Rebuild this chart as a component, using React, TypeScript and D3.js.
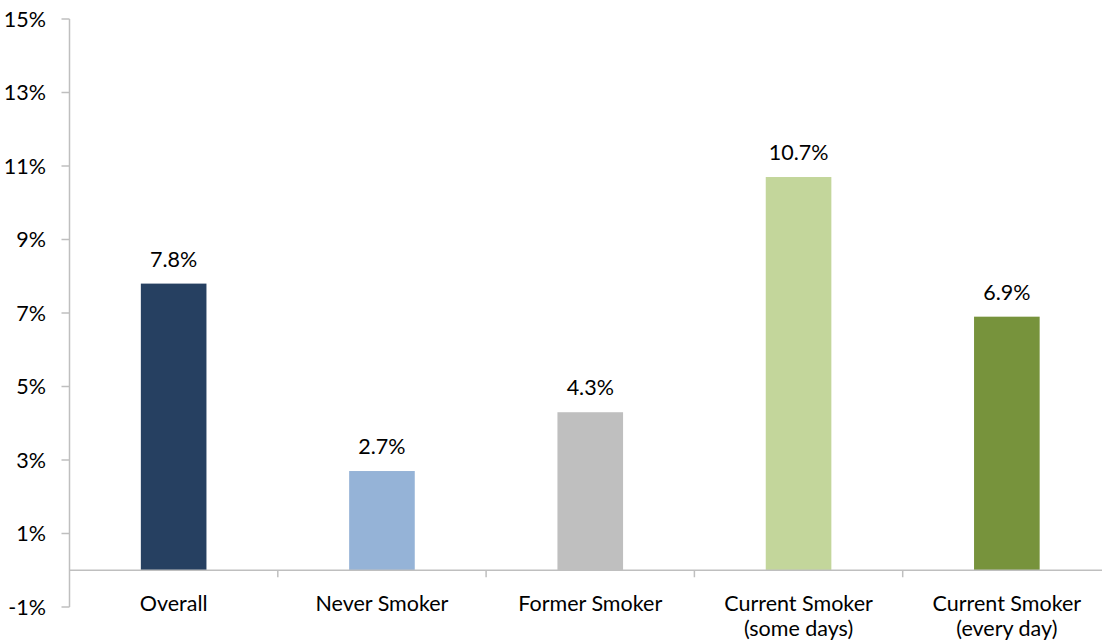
import React from "react";
import * as d3 from "d3";

const categories: string[][] = [
  ["Overall"],
  ["Never Smoker"],
  ["Former Smoker"],
  ["Current Smoker", "(some days)"],
  ["Current Smoker", "(every day)"],
];
const values: number[] = [7.8, 2.7, 4.3, 10.7, 6.9];
const colors: string[] = ["#264061", "#95B3D7", "#BFBFBF", "#C3D69B", "#77933C"];
const yTicks: number[] = [-1, 1, 3, 5, 7, 9, 11, 13, 15];

const W = 1102;
const H = 642;
const FONT = "Lato, 'Open Sans', sans-serif";
const FS = 21.5;
const AXIS = "#BFBFBF";

export default function App() {
  const left = 69.5;
  const right = 1111;
  const y = d3.scaleLinear().domain([-1, 15]).range([607, 19]);
  const x = d3
    .scaleBand<number>()
    .domain(d3.range(categories.length))
    .range([left, right])
    .paddingInner(0.685)
    .paddingOuter(0.3425);
  const zero = y(0);
  const bounds = d3.range(1, categories.length).map((i) => left + i * ((right - left) / categories.length));
  return (
    <svg width={W} height={H} style={{ position: "absolute", left: 0, top: 0 }}>
      <rect width={W} height={H} fill="#fff" />
      {values.map((v, i) => (
        <rect
          key={i}
          x={x(i)}
          y={y(v)}
          width={x.bandwidth()}
          height={zero - y(v)}
          fill={colors[i]}
        />
      ))}
      {values.map((v, i) => (
        <text
          key={"l" + i}
          x={(x(i) as number) + x.bandwidth() / 2}
          y={y(v) - 17}
          textAnchor="middle"
          fontFamily={FONT}
          fontSize={FS}
          fill="#000"
        >
          {v.toFixed(1) + "%"}
        </text>
      ))}
      <line x1={left} x2={left} y1={y(15)} y2={y(-1)} stroke={AXIS} strokeWidth={1.5} />
      {yTicks.map((t) => (
        <g key={t}>
          <line x1={left - 8} x2={left} y1={y(t)} y2={y(t)} stroke={AXIS} strokeWidth={1.5} />
          <text
            x={46}
            y={y(t)}
            dy="0.35em"
            textAnchor="end"
            fontFamily={FONT}
            fontSize={FS}
            fill="#000"
          >
            {t + "%"}
          </text>
        </g>
      ))}
      <line x1={left} x2={right} y1={zero} y2={zero} stroke={AXIS} strokeWidth={1.5} />
      {bounds.map((b, i) => (
        <line key={"b" + i} x1={b} x2={b} y1={zero} y2={zero + 7} stroke={AXIS} strokeWidth={1.5} />
      ))}
      {categories.map((lines, i) => (
        <text
          key={"c" + i}
          x={(x(i) as number) + x.bandwidth() / 2}
          y={611}
          textAnchor="middle"
          fontFamily={FONT}
          fontSize={FS}
          fill="#000"
        >
          {lines.map((ln, j) => (
            <tspan key={j} x={(x(i) as number) + x.bandwidth() / 2} dy={j === 0 ? 0 : 25}>
              {ln}
            </tspan>
          ))}
        </text>
      ))}
    </svg>
  );
}
